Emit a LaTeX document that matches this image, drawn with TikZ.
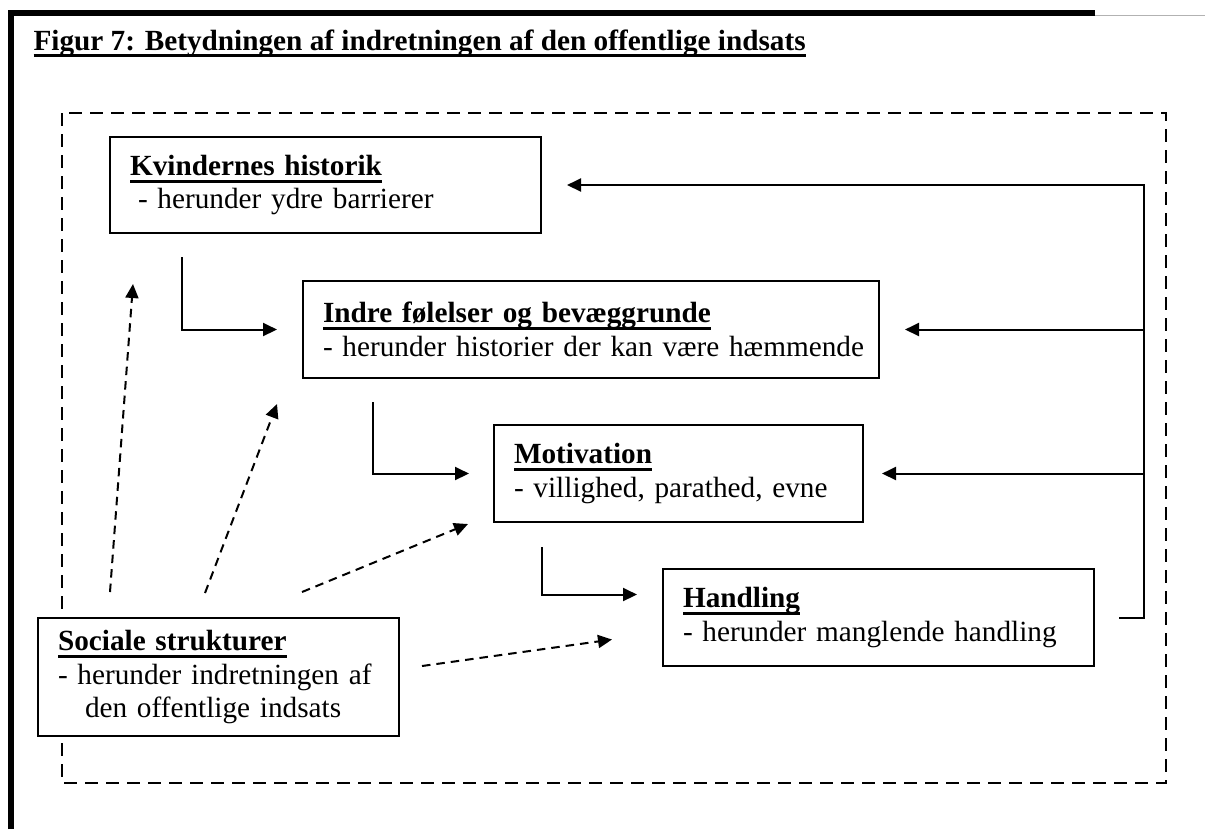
\documentclass[tikz,border=0pt]{standalone}
\usepackage{fontspec}
\setmainfont{Liberation Serif}
\usetikzlibrary{arrows.meta}
\newsavebox{\oboks}
\newcommand{\overskrift}[1]{\sbox{\oboks}{\textbf{#1}}\usebox{\oboks}\hspace{-\wd\oboks}\rule[-2.9pt]{\wd\oboks}{1.2pt}}

\begin{document}
\begin{tikzpicture}[x=0.4pt,y=-0.4pt,
	boks/.style={draw,fill=white,line width=0.8pt,anchor=north west,align=left,
		inner xsep=8pt,inner ysep=0pt,font=\fontsize{11.7}{13.4}\selectfont},
	flow/.style={line width=0.8pt,-{Triangle[length=5.6pt,width=5.2pt]}},
	stiplet/.style={flow,dash pattern=on 3.4pt off 2.4pt}]
	\useasboundingbox (0,0) rectangle (1205,829);

	%ramme
	\draw[line width=2.2pt] (11,829) -- (11,13) -- (1095,13);
	\draw[gray!60,line width=0.5pt] (1095,15.5) -- (1205,15.5);
	\node[anchor=base west,inner sep=0pt,font=\fontsize{11.7}{13.4}\selectfont] (titel) at (33,50)
	{\overskrift{Figur 7: Betydningen af indretningen af den offentlige indsats}};

	%stiplet ramme
	\draw[line width=0.8pt,dash pattern=on 5.2pt off 3.2pt] (62,113) rectangle (1166,783);

	%bokse
	\node[boks,text width=156.4pt,minimum height=38.4pt] (kvinder) at (109,136)
	{\overskrift{Kvindernes historik}\\\hspace*{3.2pt}- herunder ydre barrierer};
	\node[boks,text width=214.4pt,minimum height=38.8pt] (indre) at (302,280)
	{\overskrift{Indre følelser og bevæggrunde}\\\mbox{- herunder historier der kan være hæmmende}};
	\node[boks,text width=131.6pt,minimum height=38.8pt] (motiv) at (493,424)
	{\overskrift{Motivation}\\- villighed, parathed, evne};
	\node[boks,text width=156.4pt,minimum height=38.8pt] (handl) at (662,568)
	{\overskrift{Handling}\\- herunder manglende handling};
	\node[boks,text width=128.4pt,minimum height=47.2pt] (social) at (37,617)
	{\overskrift{Sociale strukturer}\\- herunder indretningen af\\\hspace*{10.8pt}den offentlige indsats};

	%forloeb
	\draw[flow] ([xshift=29.2pt,yshift=-9.2pt]kvinder.south west) |- ([xshift=-10pt]indre.west);
	\draw[flow] ([xshift=28.4pt,yshift=-9.2pt]indre.south west) |- ([xshift=-9.6pt]motiv.west);
	\draw[flow] ([xshift=19.6pt,yshift=-9.6pt]motiv.south west) |- ([xshift=-10pt,yshift=9.2pt]handl.west);

	%tilbage
	\coordinate (ryg) at ([xshift=19.6pt]handl.east);
	\draw[flow] ([xshift=9.6pt]handl.east) -- (ryg) |- ([xshift=10pt]kvinder.east);
	\draw[flow] (ryg |- indre.east) -- ([xshift=10pt]indre.east);
	\draw[flow] (ryg |- motiv.east) -- ([xshift=7.2pt]motiv.east);

	%sociale strukturer
	\draw[stiplet] ([xshift=29.2pt,yshift=10pt]social.north west) -- ([xshift=9.6pt,yshift=-20pt]kvinder.south west);
	\draw[stiplet] ([xshift=67.2pt,yshift=9.6pt]social.north west) -- ([xshift=-10pt,yshift=-10pt]indre.south west);
	\draw[stiplet] ([xshift=106pt,yshift=10pt]social.north west) -- ([xshift=-10pt,yshift=-0.4pt]motiv.south west);
	\draw[stiplet] ([xshift=8.8pt,yshift=4.4pt]social.east) -- ([xshift=-20pt,yshift=-8.8pt]handl.west);
\end{tikzpicture}
\end{document}
